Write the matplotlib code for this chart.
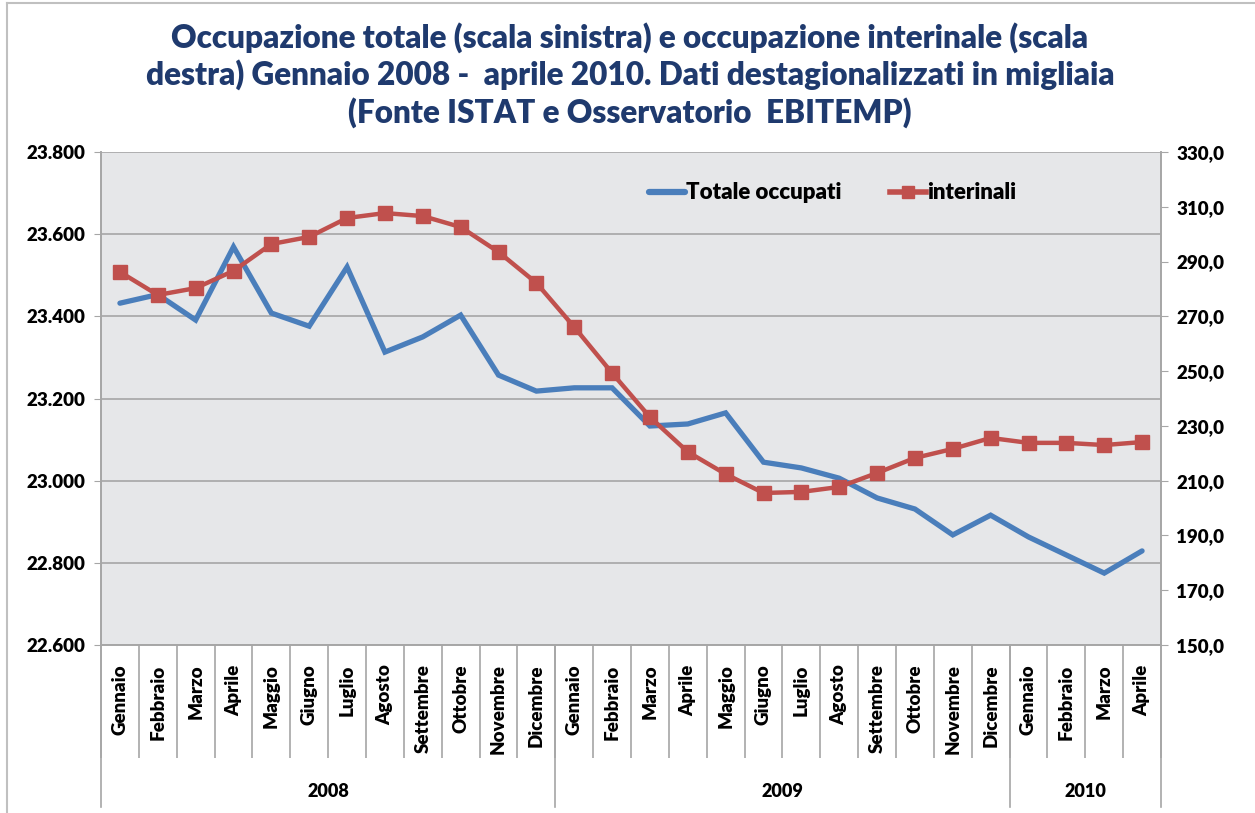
import numpy as np
import matplotlib
matplotlib.use("Agg")
import matplotlib.pyplot as plt
from matplotlib.lines import Line2D
from matplotlib.ticker import FuncFormatter

plt.rcParams['font.family'] = ['Lato', 'DejaVu Sans']
plt.rcParams['font.weight'] = 'heavy'

## Data
mesi = ["Gennaio", "Febbraio", "Marzo", "Aprile", "Maggio", "Giugno", "Luglio",
        "Agosto", "Settembre", "Ottobre", "Novembre", "Dicembre"]
etichette = mesi + mesi + mesi[:4]
anni = ["2008", "2009", "2010"]
mesi_per_anno = [12, 12, 4]

totale_occupati = [23432, 23453, 23391, 23569, 23408, 23376, 23520, 23313, 23350, 23403,
                   23257, 23218, 23226, 23226, 23133, 23138, 23165, 23045, 23031, 23006,
                   22958, 22931, 22868, 22916, 22863, 22819, 22775, 22829]
interinali = [286.2, 277.8, 280.3, 286.6, 296.4, 299.0, 305.9, 307.7, 306.6, 302.6,
              293.5, 282.2, 266.1, 249.3, 233.2, 220.5, 212.4, 205.5, 205.9, 207.7,
              212.8, 218.3, 221.6, 225.6, 223.8, 223.8, 223.0, 224.1]

titolo = ("Occupazione totale (scala sinistra) e occupazione interinale (scala\n"
          "destra) Gennaio 2008 -  aprile 2010. Dati destagionalizzati in migliaia\n"
          "(Fonte ISTAT e Osservatorio  EBITEMP)")

blu = "#4A7EBB"
rosso = "#C0504D"
grigio = "#A6A6A6"

W, H = 1255, 813
fig = plt.figure(figsize=(W / 100, H / 100), dpi=100)
ax = fig.add_axes([101 / W, 1 - 645 / H, 1060 / W, 493 / H])
ax2 = ax.twinx()

x = np.arange(len(etichette))

ax.set_facecolor("#E6E7E9")
l1, = ax.plot(x, totale_occupati, color=blu, lw=3.8, solid_capstyle="round",
              solid_joinstyle="miter", label="Totale occupati", zorder=3)
l2, = ax2.plot(x, interinali, color=rosso, lw=3.2, marker="s", markersize=10,
               label="interinali", zorder=3)

ax.set_xlim(-0.5, len(x) - 0.5)
ax.set_ylim(22600, 23800)
ax.set_yticks(np.arange(22600, 23801, 200))
ax.yaxis.set_major_formatter(FuncFormatter(lambda v, p: f"{v:,.0f}".replace(",", ".")))
ax2.set_ylim(150, 330)
ax2.set_yticks(np.arange(150, 331, 20))
ax2.yaxis.set_major_formatter(FuncFormatter(lambda v, p: f"{v:.1f}".replace(".", ",")))

ax.grid(axis="y", color=grigio, lw=1.2)
ax.set_axisbelow(True)
for a in (ax, ax2):
    for s in a.spines.values():
        s.set_color(grigio)
        s.set_linewidth(1.2)
    a.spines["top"].set_visible(False)
ax.tick_params(axis="y", length=5, color=grigio, labelsize=13.5, pad=6)
ax2.tick_params(axis="y", length=5, color=grigio, labelsize=13.5, pad=6)

# month labels + separators
ax.set_xticks(x)
ax.set_xticklabels(etichette, rotation=90, fontsize=13.5)
ax.tick_params(axis="x", which="major", length=0, pad=14)
ax.set_xticks(np.arange(-0.5, len(x), 1), minor=True)
ax.tick_params(axis="x", which="minor", length=81, color=grigio, width=1.2)

# year groups
start = 0
for anno, n in zip(anni, mesi_per_anno):
    ax.plot([start - 0.5, start - 0.5], [0, -0.329], transform=ax.get_xaxis_transform(),
            color=grigio, lw=1.2, clip_on=False)
    ax.text(start + (n - 1) / 2, -0.298, anno, transform=ax.get_xaxis_transform(),
            ha="center", va="center", fontsize=13)
    start += n
ax.plot([start - 0.5, start - 0.5], [0, -0.329], transform=ax.get_xaxis_transform(),
        color=grigio, lw=1.2, clip_on=False)

leg_handles = [Line2D([], [], color=blu, lw=4.5, solid_capstyle="round"),
               Line2D([], [], color=rosso, lw=4, marker="s", markersize=9)]
ax.legend(leg_handles, ["Totale occupati", "interinali"], ncol=2, frameon=False,
          loc="center", bbox_to_anchor=(0.69, 0.917), fontsize=16,
          handlelength=1.6, handletextpad=0.05, columnspacing=2.2)

fig.text(630 / W, 1 - 75 / H, titolo, ha="center", va="center", fontsize=22.7,
         color="#1F3A6E", linespacing=1.25)

# chart border
fig.add_artist(Line2D([7 / W, 7 / W], [0, 1 - 3 / H], color="#C0C0C0", lw=1.5))
fig.add_artist(Line2D([7 / W, 1], [1 - 3 / H, 1 - 3 / H], color="#C0C0C0", lw=1.5))

fig.savefig("out.png", dpi=100)
